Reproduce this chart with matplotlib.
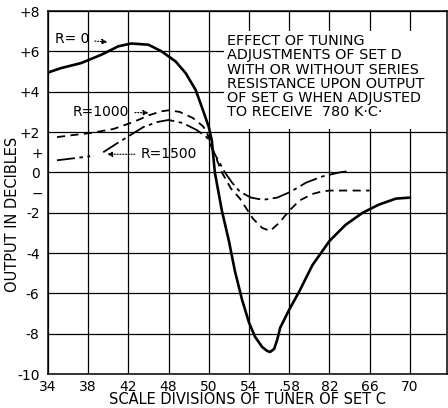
import matplotlib
matplotlib.use('Agg')
import matplotlib.pyplot as plt
from matplotlib.patches import Rectangle
import numpy as np

# tuner C scale divisions vs output (db)
r0_x = [34, 35.3, 37.3, 39.3, 41, 42.3, 44, 45.3, 46.7, 47.7, 48.7, 49.3, 50, 50.3,
        50.6, 51.3, 52, 52.6, 53.3, 54, 54.6, 55.3, 55.8, 56.1, 56.5, 56.8, 57.1,
        58, 59, 60.3, 62, 63.6, 65.3, 66.9, 68.6, 70]
r0_y = [4.95, 5.17, 5.42, 5.83, 6.25, 6.39, 6.33, 6.0, 5.5, 4.92, 4.08, 3.25, 2.25, 1.58,
        0.0, -1.9, -3.4, -4.9, -6.3, -7.45, -8.15, -8.65, -8.85, -8.9, -8.75, -8.3, -7.7,
        -6.8, -5.9, -4.6, -3.4, -2.6, -2.0, -1.6, -1.3, -1.25]

r1000_x = [34.9, 36.5, 38.2, 40.5, 42.5, 44.1, 45.2, 46, 47.1, 48.4, 49.4, 49.8,
           50.5, 51.3, 52.2, 53.1, 54.4, 55.3, 56.1, 57, 58, 59, 60.3, 61.2, 62, 66]
r1000_y = [1.75, 1.85, 1.95, 2.15, 2.5, 2.84, 3.02, 3.08, 3.0, 2.7, 2.3, 2.0,
           1.0, 0.0, -0.8, -1.3, -2.3, -2.75, -2.9, -2.5, -1.9, -1.4, -1.07, -0.95, -0.9, -0.9]

r1500_x = [34.9, 38.2, np.nan, 39.5, 40.9, 42.2, 43.5, 44.9, 46, 47.4, 48.8, 49.8,
           50.6, 51.6, 52.3, 53.1, 54.2, 55.4, 56.8, 58.1, 59.7, 61.3, 63, 63.7]
r1500_y = [0.6, 0.8, np.nan, 1.0, 1.45, 1.85, 2.25, 2.5, 2.6, 2.45, 2.1, 1.75,
           0.9, 0.0, -0.5, -0.96, -1.25, -1.36, -1.25, -0.97, -0.5, -0.2, 0.0, 0.05]

xticks = [34, 38, 42, 46, 50, 54, 58, 62, 66, 70]
xticklabels = ['34', '38', '42', '48', '50', '54', '.58', '82', '66', '70']
yticks = [-10, -8, -6, -4, -2, 0, 2, 4, 6, 8]
yticklabels = ['-10', '-8', '-6', '-4', '-2', '0', '+2', '+4', '+6', '+8']

note = ('EFFECT OF TUNING\n'
        'ADJUSTMENTS OF SET D\n'
        'WITH OR WITHOUT SERIES\n'
        'RESISTANCE UPON OUTPUT\n'
        'OF SET G WHEN ADJUSTED\n'
        'TO RECEIVE  780 K·C·')

fig = plt.figure(figsize=(4.48, 4.08), dpi=100)
ax = fig.add_axes([0.107, 0.083, 0.891, 0.89])

ax.plot(r0_x, r0_y, color='black', lw=1.9, zorder=3, solid_capstyle='round',
        solid_joinstyle='round')
ax.plot(r1000_x, r1000_y, color='black', lw=1.3, linestyle=(0, (4.5, 3)), zorder=3)
ax.plot(r1500_x, r1500_y, color='black', lw=1.3, linestyle=(0, (10, 2.5, 2, 2.5)), zorder=3)

ax.set_xlim(34, 73.7)
ax.set_ylim(-10, 8)
ax.set_xticks(xticks)
ax.set_xticklabels(xticklabels)
ax.set_yticks(yticks)
ax.set_yticklabels(yticklabels)
ax.set_yticks([-1, 1], minor=True)
ax.set_yticklabels(['−', '+'], minor=True)
ax.tick_params(which='both', length=0, labelsize=10)
ax.tick_params(axis='x', pad=4)
ax.tick_params(axis='y', pad=6)
ax.grid(True, which='major', color='black', lw=0.9)
ax.set_axisbelow(True)
for s in ax.spines.values():
    s.set_linewidth(1.1)

ax.add_patch(Rectangle((51.5, 2.15), 23, 4.85, facecolor='white', edgecolor='none', zorder=1.5))
ax.text(51.8, 6.85, note, fontsize=10.4, va='top', ha='left', linespacing=1.02, zorder=4)

dotted = dict(arrowstyle='-|>', linestyle=(0, (1, 1.5)), lw=0.8, color='black', mutation_scale=8)
ax.annotate('R= 0', xy=(40.2, 6.45), xytext=(36.4, 6.6), fontsize=10, ha='center', va='center',
            arrowprops=dotted)
ax.annotate('R=1000', xy=(44.3, 2.95), xytext=(39.3, 3.0), fontsize=10, ha='center', va='center',
            arrowprops=dotted)
ax.annotate('R=1500', xy=(39.6, 0.9), xytext=(46.0, 0.9), fontsize=10, ha='center', va='center',
            arrowprops=dotted)

ax.set_xlabel('SCALE DIVISIONS OF TUNER OF SET C', fontsize=10.5, labelpad=-1)
ax.set_ylabel('OUTPUT IN DECIBLES', fontsize=10.5)
ax.yaxis.set_label_coords(-0.07, 0.44)

fig.savefig('out.png', dpi=100)
